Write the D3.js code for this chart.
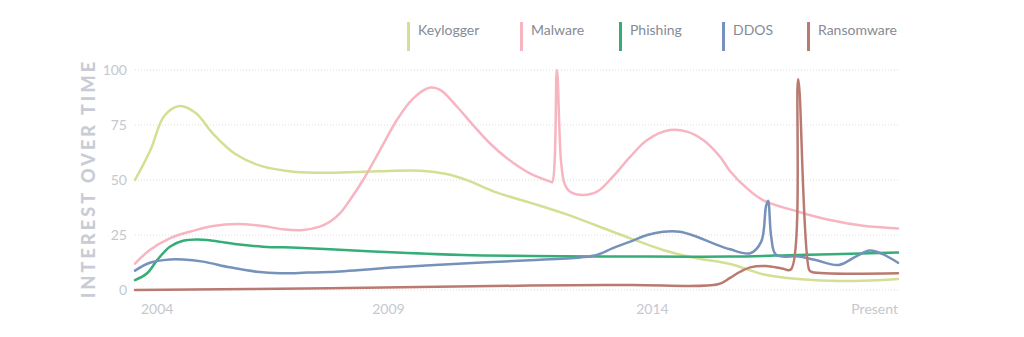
<!DOCTYPE html>
<html><head><meta charset="utf-8">
<script src="https://cdn.jsdelivr.net/npm/d3@7/dist/d3.min.js"></script>
<style>
html,body{margin:0;padding:0;background:#fff;}
svg{display:block;font-family:Lato,"Open Sans",sans-serif;}
</style></head>
<body><svg id="chart" width="1024" height="337"></svg>
<script>
const seriesNames = ["Keylogger","Malware","Phishing","DDOS","Ransomware"];
const seriesColors = ["#d3df93","#f6b5c0","#35ad77","#7592bb","#b97a6f"];
const yTicks = [0,25,50,75,100];
const xTickLabels = ["2004","2009","2014","Present"];
const xTickYears = [2004.2,2009,2014,2018.65];

// [decimal year, interest]
const keylogger = [[2004.2,50],[2004.5,64],[2004.75,79],[2005.05,83.6],[2005.35,80.4],[2005.68,71],[2006.1,61.8],[2006.6,56.3],[2007.2,53.8],[2007.9,53.3],[2008.8,54],[2009.6,54.2],[2010.1,52.7],[2010.5,49.8],[2011.0,44.7],[2011.68,39.7],[2012.32,34.8],[2012.95,29.2],[2013.58,23.5],[2014.2,18.2],[2014.84,14.4],[2015.47,11.8],[2016.09,7.2],[2016.76,5],[2017.36,4.2],[2017.99,4.2],[2018.65,5]];
const malware = [[2004.2,12],[2004.48,18.2],[2004.86,23.5],[2005.24,26.5],[2005.68,29.1],[2006.13,30],[2006.62,29.1],[2007.0,27.6],[2007.38,27.3],[2007.7,28.8],[2007.89,31],[2008.08,34.8],[2008.27,40.9],[2008.52,50],[2008.84,63.6],[2009.16,77.3],[2009.47,87.1],[2009.79,92],[2009.98,91],[2010.3,83.3],[2010.6,75],[2010.92,66.7],[2011.25,59.8],[2011.68,53],[2012.06,49.3],[2012.1,49],[2012.19,100],[2012.27,58],[2012.34,48],[2012.44,44.7],[2012.68,43.2],[2012.95,44.7],[2013.25,51.5],[2013.58,60.6],[2013.9,68.2],[2014.33,72.7],[2014.65,72],[2014.96,68.2],[2015.28,60.6],[2015.47,54],[2015.79,46.2],[2016.09,40.9],[2016.76,35.6],[2017.36,31.8],[2017.99,29.2],[2018.65,28]];
const phishing = [[2004.2,4.5],[2004.43,7.6],[2004.62,13.6],[2004.86,19.7],[2005.11,22.4],[2005.37,23],[2005.68,22.4],[2006.13,20.8],[2006.62,19.7],[2007.27,19.2],[2007.89,18.5],[2009.16,17],[2010.41,15.9],[2011.68,15.5],[2013.58,15.2],[2015.47,15.2],[2016.76,15.9],[2018.65,17]];
const ddos = [[2004.2,8.8],[2004.48,12.4],[2004.86,13.9],[2005.11,13.9],[2005.49,12.9],[2006.0,10.3],[2006.51,8.3],[2006.95,7.6],[2007.46,7.9],[2007.89,8.2],[2009.16,10.3],[2010.41,12.1],[2011.68,13.5],[2012.63,14.8],[2012.95,15.9],[2013.25,19],[2013.58,22],[2013.9,25],[2014.2,26.5],[2014.52,26.5],[2014.84,24.2],[2015.15,21.2],[2015.47,18.5],[2015.85,16.7],[2016.06,22],[2016.15,38],[2016.19,40.6],[2016.25,24],[2016.34,16],[2016.78,15.2],[2017.09,13.6],[2017.53,11.4],[2017.85,15.2],[2018.12,17.9],[2018.35,16.4],[2018.65,12.4]];
const ransomware = [[2004.2,0],[2007.89,0.8],[2011.68,2],[2013.58,2.3],[2015.24,2.6],[2015.47,5.5],[2015.66,8.3],[2015.85,10.3],[2016.15,10.9],[2016.45,9.8],[2016.62,9.3],[2016.76,95.8],[2016.97,9],[2017.02,8.2],[2018.65,7.6]];
const allSeries = [keylogger,malware,phishing,ddos,ransomware];

const svg = d3.select("#chart");
const x = d3.scaleLinear().domain([2004.2,2018.65]).range([135,898]);
const y = d3.scaleLinear().domain([0,100]).range([290,70]);

// grid
svg.append("g").selectAll("line").data(yTicks).join("line")
  .attr("x1",x.range()[0]).attr("x2",x.range()[1])
  .attr("y1",d=>y(d)).attr("y2",d=>y(d))
  .attr("stroke","#dcdde0").attr("stroke-width",1).attr("stroke-dasharray","1,2");

// y axis
const yAxis = d3.axisLeft(y).tickValues(yTicks).tickSize(0).tickPadding(8);
const gy = svg.append("g").attr("transform","translate(135,0)").call(yAxis);
gy.select(".domain").remove();
gy.selectAll("text").attr("fill","#c5c8cf").style("font-size","14px").style("font-family","Lato,sans-serif");

// x axis labels
const gx = svg.append("g");
gx.selectAll("text").data(xTickLabels).join("text")
  .attr("x",(d,i)=> i===0 ? x(xTickYears[i])+6 : x(xTickYears[i]))
  .attr("y",314)
  .attr("text-anchor",(d,i)=> i===0 ? "start" : (i===xTickLabels.length-1 ? "end" : "middle"))
  .attr("fill","#c5c8cf").style("font-size","14px").text(d=>d);

// y title
svg.append("text")
  .attr("transform","translate(95,180) rotate(-90)")
  .attr("text-anchor","middle")
  .attr("fill","#c9ccd5")
  .style("font-size","18px").style("font-weight","900")
  .attr("textLength",236).attr("lengthAdjust","spacing")
  .text("INTEREST OVER TIME");

// lines
const line = d3.line().x(d=>x(d[0])).y(d=>y(d[1])).curve(d3.curveCatmullRom.alpha(0.5));
svg.append("g").selectAll("path").data(allSeries).join("path")
  .attr("d",line).attr("fill","none")
  .attr("stroke",(d,i)=>seriesColors[i]).attr("stroke-width",2.5)
  .attr("stroke-linejoin","round").attr("stroke-linecap","round");

// legend
const legendX = [407,520,619,722,807];
const lg = svg.append("g");
seriesNames.forEach((n,i)=>{
  lg.append("rect").attr("x",legendX[i]).attr("y",22).attr("width",3).attr("height",29).attr("fill",seriesColors[i]);
  lg.append("text").attr("x",legendX[i]+11).attr("y",35).attr("fill","#858b94").style("font-size","14px").text(n);
});
</script></body></html>
